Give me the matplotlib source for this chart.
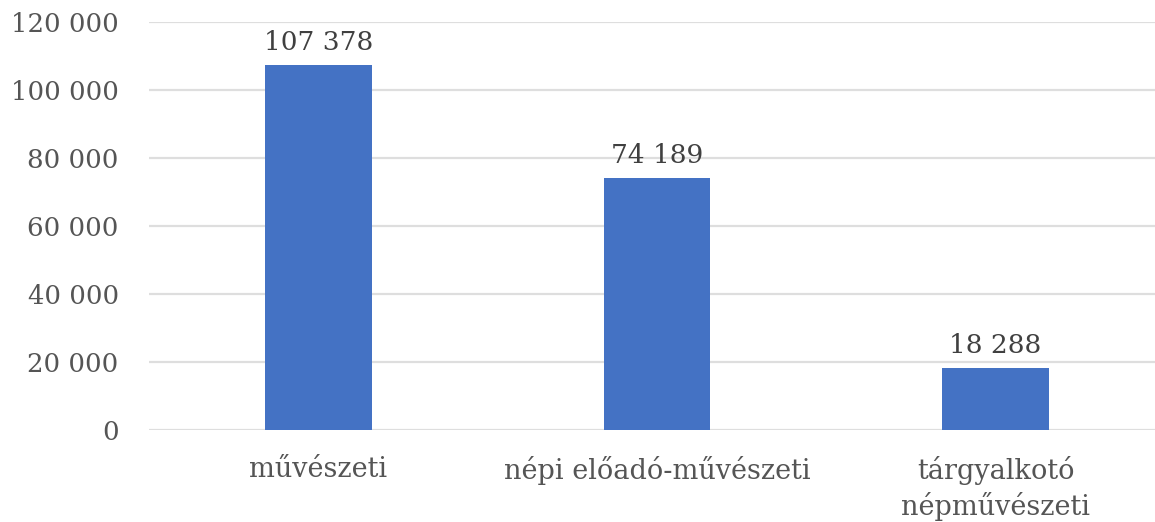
import matplotlib
matplotlib.use("Agg")
import matplotlib.pyplot as plt
from matplotlib.ticker import FuncFormatter

categories = ["művészeti", "népi előadó-művészeti", "tárgyalkotó\nnépművészeti"]
values = [107378, 74189, 18288]
yticks = [0, 20000, 40000, 60000, 80000, 100000, 120000]

W, H = 1155, 522
fig = plt.figure(figsize=(W / 100, H / 100), dpi=100)
left_px, right_px, bottom_px, top_px = 149.25, 1155, 430, 22
ax = fig.add_axes([left_px / W, (H - bottom_px) / H, (right_px - left_px) / W, (bottom_px - top_px) / H])

font = "DejaVu Serif"
gray = "#555555"
bar_color = "#4472C4"

x = list(range(len(categories)))
bars = ax.bar(x, values, width=0.316, color=bar_color, zorder=3)
for xi, v in zip(x, values):
    ax.annotate(f"{v:,}".replace(",", " "), (xi, v), xytext=(0, 7), textcoords="offset points",
                ha="center", va="bottom", fontsize=19, color="#404040", family=font)

cat_w = 338.5
ax.set_xlim(-0.5, -0.5 + (right_px - left_px) / cat_w)
ax.set_ylim(0, 120000)
ax.set_yticks(yticks)
ax.yaxis.set_major_formatter(FuncFormatter(lambda v, p: f"{int(v):,}".replace(",", " ")))
ax.set_xticks(x)
ax.set_xticklabels(categories, family=font, fontsize=19.5, color=gray, linespacing=1.3)
for lab in ax.get_yticklabels():
    lab.set_family(font)
    lab.set_fontsize(18.7)
    lab.set_color(gray)

ax.grid(axis="y", color="#dedede", linewidth=1.6, zorder=0)
ax.tick_params(axis="both", length=0)
ax.tick_params(axis="y", pad=22)
ax.tick_params(axis="x", pad=19)
for s in ax.spines.values():
    s.set_visible(False)

fig.savefig("out.png", dpi=100, facecolor="white")
